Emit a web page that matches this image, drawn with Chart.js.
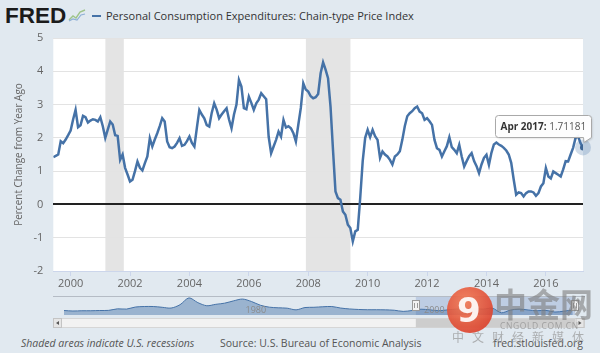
<!DOCTYPE html>
<html>
<head>
<meta charset="utf-8">
<script src="https://cdn.jsdelivr.net/npm/chart.js@4.4.1/dist/chart.umd.min.js"></script>
<style>
  html, body { margin: 0; padding: 0; }
  body { width: 600px; height: 353px; background: #e1e9f0; position: relative; overflow: hidden; font-family: 'Open Sans', sans-serif; }
  canvas { position: absolute; }
  #main { left: 0; top: 0; }
  #nav { left: 50px; top: 296px; }
  .abs { position: absolute; white-space: nowrap; }
  .foot { top: 336px; font-size: 10.5px; line-height: 14px; color: #555; }
</style>
</head>
<body>
<div class="abs" style="left:5px;top:5px;font:bold 22.5px/22px 'Liberation Sans',Arial,sans-serif;color:#1b1b1b;">FRED</div>
<svg class="abs" style="left:68px;top:8px" width="18" height="14" viewBox="0 0 18 14">
  <polyline points="1,12 5,8 8,10 12,4 17,2" fill="none" stroke="#9ec48a" stroke-width="1.4"/>
  <polyline points="1,13 5,11 9,12 13,7 17,6" fill="none" stroke="#8fb0d6" stroke-width="1.2"/>
</svg>
<div class="abs" style="left:92px;top:15px;width:9px;height:2px;background:#4572a7;"></div>
<div class="abs" style="left:106px;top:8px;font-size:11px;line-height:15px;color:#333;">Personal Consumption Expenditures: Chain-type Price Index</div>

<canvas id="main" width="600" height="290"></canvas>
<canvas id="nav" width="540" height="32"></canvas>

<div class="abs foot" style="left:21px;font-style:italic;">Shaded areas indicate U.S. recessions</div>
<div class="abs foot" style="left:220px;">Source: U.S. Bureau of Economic Analysis</div>
<div class="abs foot" style="right:17px;">fred.stlouisfed.org</div>

<!-- watermark -->
<div class="abs" style="left:447px;top:287px;width:46px;height:46px;border-radius:50%;background:radial-gradient(circle at 40% 35%,#f47a52,#d52e1e);opacity:.9;"></div>
<div class="abs" style="left:457px;top:289px;font:bold 34px/42px 'DejaVu Sans',sans-serif;color:#fff;opacity:.9;">9</div>
<div class="abs" style="left:494px;top:283px;font:bold 33px/40px 'Noto Sans CJK SC',sans-serif;color:rgba(125,125,125,.6);">中金网</div>
<div class="abs" style="left:500px;top:321px;font-size:8.5px;line-height:10px;letter-spacing:.6px;color:rgba(140,140,140,.7);">CNGOLD.COM.CN</div>
<div class="abs" style="left:452px;top:330px;font:12px/14px 'Noto Sans CJK SC',sans-serif;letter-spacing:8px;color:rgba(150,150,150,.7);">中文财经新媒体</div>

<script>
// PCE chain-type price index, percent change from year ago, monthly Jun 1999 .. Apr 2017
const startYear = 1999;
const startMonth = 6;
const pceYoY = [
  1.42, 1.46, 1.50, 1.90, 1.84, 1.95, 2.08,                               // 1999 Jun-Dec
  2.22, 2.55, 2.84, 2.32, 2.38, 2.66, 2.62, 2.46, 2.52, 2.56, 2.54, 2.49, // 2000
  2.62, 2.35, 2.00, 2.25, 2.49, 2.40, 2.08, 2.06, 1.34, 1.50, 1.10, 0.90, // 2001
  0.69, 0.74, 1.00, 1.29, 1.10, 1.02, 1.24, 1.44, 1.99, 1.74, 1.95, 2.14, // 2002
  2.35, 2.59, 2.49, 1.89, 1.72, 1.69, 1.74, 1.85, 1.99, 1.76, 1.79, 1.90, // 2003
  2.04, 1.85, 1.74, 2.30, 2.84, 2.70, 2.59, 2.38, 2.34, 2.75, 3.04, 2.85, // 2004
  2.59, 2.70, 2.80, 2.89, 2.55, 2.29, 2.70, 3.00, 3.74, 3.54, 2.89, 2.86, // 2005
  3.24, 3.05, 2.84, 3.04, 3.15, 3.34, 3.25, 3.16, 2.04, 1.54, 1.74, 1.94, // 2006
  2.19, 2.04, 2.54, 2.31, 2.35, 2.29, 2.14, 1.89, 2.40, 2.90, 3.64, 3.45, // 2007
  3.39, 3.25, 3.19, 3.22, 3.32, 3.94, 4.27, 4.05, 3.79, 2.94, 1.64, 0.39, // 2008
  0.19, 0.14, -0.21, -0.31, -0.61, -0.71, -1.11, -0.81, -0.76, 0.20, 1.30, 2.00, // 2009
  2.24, 2.02, 2.24, 2.05, 1.94, 1.40, 1.59, 1.50, 1.44, 1.34, 1.20, 1.44, // 2010
  1.50, 1.60, 1.94, 2.35, 2.65, 2.74, 2.80, 2.89, 2.94, 2.79, 2.74, 2.54, // 2011
  2.59, 2.50, 2.39, 1.94, 1.69, 1.64, 1.44, 1.60, 1.75, 2.02, 1.72, 1.64, // 2012
  1.54, 1.79, 1.44, 1.14, 1.30, 1.45, 1.54, 1.30, 1.15, 0.94, 1.20, 1.40, // 2013
  1.49, 1.19, 1.55, 1.80, 1.86, 1.80, 1.76, 1.70, 1.62, 1.50, 1.25, 0.75, // 2014
  0.29, 0.36, 0.34, 0.24, 0.34, 0.39, 0.39, 0.36, 0.26, 0.34, 0.54, 0.64, // 2015
  1.09, 0.84, 0.78, 0.99, 0.94, 0.89, 0.84, 1.05, 1.30, 1.29, 1.50, 1.70, // 2016
  2.00, 2.05, 1.84, 1.71181                                               // 2017 Jan-Apr
];
const xTickLabels = ['2000', '2002', '2004', '2006', '2008', '2010', '2012', '2014', '2016'];
const recessionStart = [2001.17, 2007.92];
const recessionEnd = [2001.79, 2009.42];
const monthNames = ['Jan', 'Feb', 'Mar', 'Apr', 'May', 'Jun', 'Jul', 'Aug', 'Sep', 'Oct', 'Nov', 'Dec'];

// navigator: whole history, yearly
const navYears = [];
for (let y = 1960; y <= 2017; y++) navYears.push(y);
const navValues = [
  1.5, 1.1, 1.3, 1.3, 1.5, 1.6, 2.8, 2.6, 4.2, 4.6,   // 1960s
  4.6, 4.0, 3.4, 6.0, 11.3, 7.6, 5.2, 6.3, 7.2, 9.0,  // 1970s
  10.4, 8.5, 5.6, 4.1, 3.6, 3.3, 2.0, 3.8, 4.0, 4.4,  // 1980s
  4.6, 3.4, 2.7, 2.3, 2.1, 2.1, 2.0, 1.7, 0.8, 1.5,   // 1990s
  2.5, 2.0, 1.3, 2.0, 2.6, 3.0, 2.8, 2.6, 3.3, -0.3,  // 2000s
  1.8, 2.6, 1.9, 1.3, 1.6, 0.3, 1.0, 1.9              // 2010s
];
const navTickLabels = ['1980', '2000'];

const font = 'Open Sans';
const firstX = startYear + (startMonth - 1) / 12;
const points = pceYoY.map((v, i) => ({ x: firstX + i / 12, y: v }));
const lastX = points[points.length - 1].x;

const plotBg = {
  id: 'plotBg',
  beforeDraw(chart) {
    const { ctx, chartArea: a, scales: { x } } = chart;
    ctx.save();
    ctx.fillStyle = '#fff';
    ctx.fillRect(a.left, a.top, a.width, a.height);
    ctx.fillStyle = '#e4e4e4';
    recessionStart.forEach((s, i) => {
      const x0 = Math.max(x.getPixelForValue(s), a.left);
      const x1 = Math.min(x.getPixelForValue(recessionEnd[i]), a.right);
      ctx.fillRect(x0, a.top, x1 - x0, a.height);
    });
    ctx.restore();
  }
};

const lastPoint = {
  id: 'lastPoint',
  beforeDatasetsDraw(chart) {
    const p = chart.getDatasetMeta(0).data[pceYoY.length - 1];
    const ctx = chart.ctx;
    ctx.save();
    ctx.fillStyle = 'rgba(69,114,167,0.25)';
    ctx.beginPath();
    ctx.arc(p.x, p.y, 8, 0, Math.PI * 2);
    ctx.fill();
    ctx.restore();
  },
  afterDraw(chart) {
    const i = pceYoY.length - 1;
    const p = chart.getDatasetMeta(0).data[i];
    const ctx = chart.ctx;
    const mIdx = (startMonth - 1 + i) % 12;
    const yr = startYear + Math.floor((startMonth - 1 + i) / 12);
    const label = monthNames[mIdx] + ' ' + yr + ':';
    const value = ' ' + pceYoY[i];
    ctx.save();
    ctx.font = 'bold 10px "' + font + '"';
    const lw = ctx.measureText(label).width;
    ctx.font = '10px "' + font + '"';
    const vw = ctx.measureText(value).width;
    const w = Math.ceil(lw + vw + 10), h = 22, r = 3;
    const right = Math.round(p.x) + 8.5;
    const l = right - w, t = Math.round(p.y) - 31.5;
    ctx.shadowColor = 'rgba(0,0,0,0.15)';
    ctx.shadowOffsetX = 1;
    ctx.shadowOffsetY = 1;
    ctx.shadowBlur = 2;
    ctx.beginPath();
    ctx.moveTo(l + r, t);
    ctx.lineTo(l + w - r, t);
    ctx.arcTo(l + w, t, l + w, t + r, r);
    ctx.lineTo(l + w, t + h);
    ctx.lineTo(p.x + 1, p.y - 5);
    ctx.lineTo(l + w - 8, t + h);
    ctx.lineTo(l + r, t + h);
    ctx.arcTo(l, t + h, l, t + h - r, r);
    ctx.lineTo(l, t + r);
    ctx.arcTo(l, t, l + r, t, r);
    ctx.closePath();
    ctx.fillStyle = 'rgba(255,255,255,0.95)';
    ctx.fill();
    ctx.shadowColor = 'transparent';
    ctx.strokeStyle = '#a9a9a9';
    ctx.lineWidth = 1;
    ctx.stroke();
    ctx.textBaseline = 'middle';
    ctx.fillStyle = '#333';
    ctx.font = 'bold 10px "' + font + '"';
    ctx.fillText(label, l + 5, t + h / 2 + 0.5);
    ctx.font = '10px "' + font + '"';
    ctx.fillStyle = '#555';
    ctx.fillText(value, l + 5 + lw, t + h / 2 + 0.5);
    ctx.restore();
  }
};

new Chart(document.getElementById('main'), {
  type: 'line',
  data: {
    datasets: [{
      data: points,
      borderColor: '#4572a7',
      borderWidth: 2.5,
      pointRadius: c => (c.dataIndex === pceYoY.length - 1 ? 3 : 0),
      pointBackgroundColor: '#3d6696',
      pointBorderWidth: 0,
      tension: 0
    }]
  },
  options: {
    responsive: false,
    animation: false,
    layout: { padding: { left: 0, right: 17, top: 38, bottom: 0 } },
    plugins: { legend: { display: false }, tooltip: { enabled: false } },
    scales: {
      x: {
        type: 'linear',
        min: firstX,
        max: lastX,
        afterBuildTicks: s => { s.ticks = xTickLabels.map(l => ({ value: Number(l) })); },
        afterFit: s => { s.height = 19; },
        ticks: {
          autoSkip: false, maxRotation: 0, padding: 1,
          color: '#666', font: { family: font, size: 11 },
          callback: v => String(v)
        },
        grid: { drawOnChartArea: false, tickLength: 5, color: '#ccd6eb' },
        border: { color: '#ccd6eb' }
      },
      y: {
        min: -2,
        max: 5,
        afterFit: s => { s.width = 53.3; },
        ticks: { stepSize: 1, padding: 10, color: '#666', font: { family: font, size: 11 } },
        grid: {
          drawTicks: false,
          color: c => (c.tick.value === 0 ? '#222' : '#e3e3e3'),
          lineWidth: c => (c.tick.value === 0 ? 2 : 1)
        },
        border: { display: false },
        title: {
          display: true,
          text: 'Percent Change from Year Ago',
          color: '#666',
          font: { family: font, size: 10 },
          padding: { top: 13, bottom: 0 }
        }
      }
    }
  },
  plugins: [plotBg, lastPoint]
});

// navigator + scrollbar
const navDecor = {
  id: 'navDecor',
  beforeDraw(chart) {
    const { ctx, chartArea: a, scales: { x } } = chart;
    ctx.save();
    ctx.strokeStyle = '#b5bcc5';
    ctx.lineWidth = 1;
    ctx.beginPath();
    ctx.moveTo(3, 0.5);
    ctx.lineTo(535, 0.5);
    ctx.stroke();
    const sx = x.getPixelForValue(firstX);
    ctx.fillStyle = 'rgba(102,133,194,0.28)';
    ctx.fillRect(sx, a.top, a.right - sx, a.bottom - a.top);
    ctx.restore();
  },
  afterDraw(chart) {
    const { ctx, chartArea: a, scales: { x } } = chart;
    const sx = x.getPixelForValue(firstX);
    ctx.save();
    // labels
    ctx.fillStyle = '#8a8a8a';
    ctx.font = '9px "' + font + '"';
    ctx.textBaseline = 'alphabetic';
    navTickLabels.forEach(l => ctx.fillText(l, x.getPixelForValue(Number(l)) + 3, a.bottom - 2));
    // handles
    [sx, a.right].forEach(hx => {
      ctx.fillStyle = '#f2f2f2';
      ctx.strokeStyle = '#999';
      ctx.fillRect(Math.round(hx) - 3.5, 4.5, 7, 10);
      ctx.strokeRect(Math.round(hx) - 3.5, 4.5, 7, 10);
      ctx.beginPath();
      ctx.moveTo(Math.round(hx) - 1.5, 7); ctx.lineTo(Math.round(hx) - 1.5, 12);
      ctx.moveTo(Math.round(hx) + 1.5, 7); ctx.lineTo(Math.round(hx) + 1.5, 12);
      ctx.stroke();
    });
    // scrollbar
    const top = 22.5, h = 9;
    ctx.fillStyle = '#f2f2f2';
    ctx.strokeStyle = '#d6d6d6';
    ctx.fillRect(3.5, top, 531, h);
    ctx.strokeRect(3.5, top, 531, h);
    ctx.fillStyle = '#cdcdcd';
    ctx.fillRect(sx, top, a.right - sx, h);
    [[3.5, -1], [a.right + 1, 1]].forEach(([bx, dir]) => {
      ctx.fillStyle = '#e6e6e6';
      ctx.strokeStyle = '#c4c4c4';
      ctx.fillRect(bx, top, 8, h);
      ctx.strokeRect(bx, top, 8, h);
      ctx.fillStyle = '#555';
      const cx = bx + 4, cy = top + h / 2;
      ctx.beginPath();
      ctx.moveTo(cx + dir * 1.5, cy);
      ctx.lineTo(cx - dir * 1.5, cy - 2);
      ctx.lineTo(cx - dir * 1.5, cy + 2);
      ctx.closePath();
      ctx.fill();
    });
    ctx.restore();
  }
};

new Chart(document.getElementById('nav'), {
  type: 'line',
  data: {
    datasets: [{
      data: navYears.map((y, i) => ({ x: y, y: navValues[i] })),
      fill: 'start',
      backgroundColor: 'rgba(69,114,167,0.45)',
      borderColor: '#4572a7',
      borderWidth: 1,
      pointRadius: 0,
      tension: 0.3
    }]
  },
  options: {
    responsive: false,
    animation: false,
    layout: { padding: { left: 14, right: 15, top: 1, bottom: 13 } },
    plugins: { legend: { display: false }, tooltip: { enabled: false } },
    scales: {
      x: { type: 'linear', display: false, min: 1960, max: lastX },
      y: { display: false, min: -2, max: 12 }
    }
  },
  plugins: [navDecor]
});
</script>
</body>
</html>
